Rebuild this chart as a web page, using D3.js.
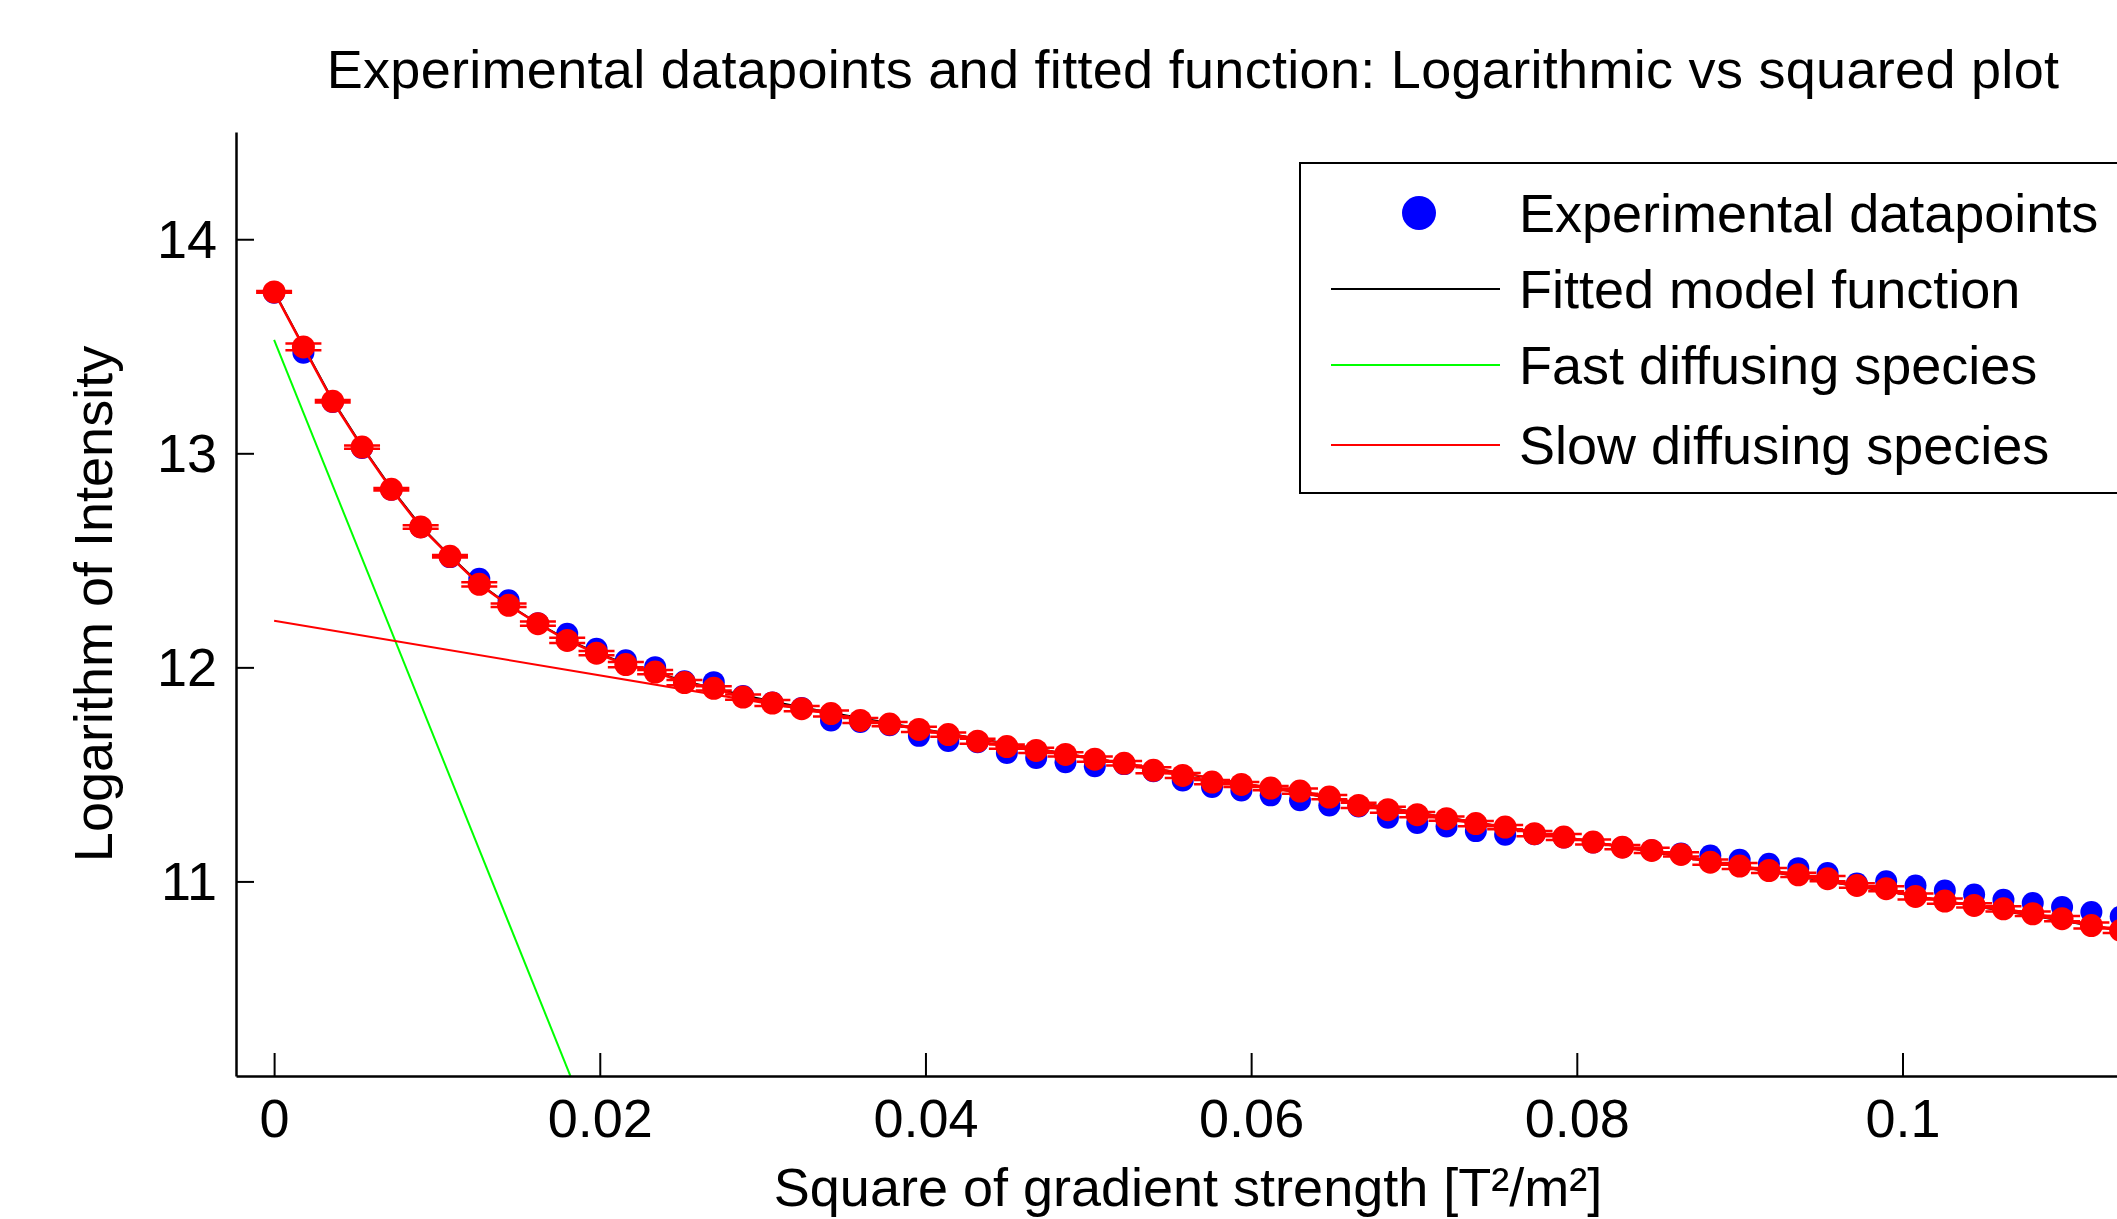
<!DOCTYPE html>
<html>
<head>
<meta charset="utf-8">
<script src="https://cdnjs.cloudflare.com/ajax/libs/d3/7.8.5/d3.min.js"></script>
<style>
  html, body { margin: 0; padding: 0; background: #fff; }
  svg { display: block; }
  text { font-family: "Liberation Sans", Arial, sans-serif; fill: #000; }
</style>
</head>
<body>
<div id="chart"></div>
<script>
// squared gradient strength [T^2/m^2]
var gradSq = [0, 0.0018, 0.0036, 0.0054, 0.0072, 0.009, 0.0108, 0.0126, 0.0144, 0.0162,
  0.018, 0.0198, 0.0216, 0.0234, 0.0252, 0.027, 0.0288, 0.0306, 0.0324, 0.0342,
  0.036, 0.0378, 0.0396, 0.0414, 0.0432, 0.045, 0.0468, 0.0486, 0.0504, 0.0522,
  0.054, 0.0558, 0.0576, 0.0594, 0.0612, 0.063, 0.0648, 0.0666, 0.0684, 0.0702,
  0.072, 0.0738, 0.0756, 0.0774, 0.0792, 0.081, 0.0828, 0.0846, 0.0864, 0.0882,
  0.09, 0.0918, 0.0936, 0.0954, 0.0972, 0.099, 0.1008, 0.1026, 0.1044, 0.1062,
  0.108, 0.1098, 0.1116, 0.1134];

// blue experimental points (ln I)
var expLogI = [13.750, 13.470, 13.240, 13.025, 12.830, 12.655, 12.515, 12.414, 12.313, 12.206,
  12.157, 12.087, 12.033, 12.001, 11.935, 11.931, 11.866, 11.836, 11.810, 11.752,
  11.745, 11.730, 11.680, 11.656, 11.650, 11.600, 11.577, 11.557, 11.538, 11.548,
  11.515, 11.472, 11.441, 11.425, 11.402, 11.379, 11.355, 11.350, 11.298, 11.273,
  11.257, 11.235, 11.218, 11.220, 11.205, 11.182, 11.160, 11.146, 11.130, 11.121,
  11.101, 11.083, 11.062, 11.039, 10.990, 11.001, 10.981, 10.958, 10.939, 10.914,
  10.899, 10.880, 10.857, 10.836];

// red points with error bars
var errLogI = [13.754, 13.497, 13.243, 13.029, 12.832, 12.656, 12.519, 12.388, 12.290, 12.204,
  12.126, 12.066, 12.013, 11.978, 11.929, 11.902, 11.861, 11.833, 11.807, 11.784,
  11.752, 11.735, 11.710, 11.686, 11.655, 11.630, 11.612, 11.593, 11.571, 11.552,
  11.519, 11.495, 11.464, 11.453, 11.436, 11.422, 11.394, 11.355, 11.335, 11.312,
  11.293, 11.270, 11.254, 11.223, 11.207, 11.184, 11.160, 11.145, 11.126, 11.090,
  11.072, 11.051, 11.031, 11.013, 10.981, 10.966, 10.930, 10.908, 10.888, 10.872,
  10.849, 10.826, 10.794, 10.771];

var errSize = [0.004, 0.016, 0.006, 0.008, 0.006, 0.008, 0.006, 0.010, 0.008, 0.010,
  0.012, 0.010, 0.012, 0.010, 0.012, 0.010, 0.012, 0.014, 0.012, 0.014,
  0.012, 0.010, 0.012, 0.010, 0.012, 0.010, 0.012, 0.010, 0.012, 0.010,
  0.014, 0.012, 0.010, 0.012, 0.010, 0.012, 0.010, 0.012, 0.014, 0.012,
  0.010, 0.012, 0.010, 0.012, 0.014, 0.012, 0.010, 0.012, 0.010, 0.012,
  0.014, 0.012, 0.010, 0.012, 0.010, 0.012, 0.014, 0.012, 0.010, 0.012,
  0.010, 0.012, 0.014, 0.012];

// fitted model (black)
var fitLogI = [13.757, 13.500, 13.248, 13.033, 12.836, 12.661, 12.521, 12.392, 12.292, 12.205,
  12.130, 12.069, 12.017, 11.978, 11.935, 11.904, 11.870, 11.841, 11.814, 11.788,
  11.763, 11.739, 11.715, 11.691, 11.667, 11.644, 11.621, 11.597, 11.574, 11.551,
  11.528, 11.505, 11.482, 11.459, 11.437, 11.414, 11.391, 11.368, 11.345, 11.322,
  11.299, 11.276, 11.253, 11.230, 11.207, 11.184, 11.161, 11.138, 11.115, 11.092,
  11.069, 11.046, 11.023, 11.000, 10.977, 10.954, 10.931, 10.908, 10.885, 10.862,
  10.839, 10.816, 10.793, 10.770];

// single-species components (straight lines)
var fastX = [0, 0.0182];
var fastY = [13.53, 10.09];
var slowX = [0, 0.1152];
var slowY = [12.218, 10.748];

var xTicks = [0, 0.02, 0.04, 0.06, 0.08, 0.1];
var xTickLabels = ["0", "0.02", "0.04", "0.06", "0.08", "0.1"];
var yTicks = [11, 12, 13, 14];

var legendNames = ["Experimental datapoints", "Fitted model function", "Fast diffusing species", "Slow diffusing species"];

(function() {
  var W = 2117, H = 1219;
  var margin = { top: 132, left: 236, right: -33, bottom: 143 },
    width = W - margin.left - margin.right,
    height = H - margin.top - margin.bottom;

  var svg = d3.select("#chart")
    .append("svg")
    .attr("width", W)
    .attr("height", H);

  var g = svg.append("g")
    .attr("transform", "translate(" + margin.left + "," + margin.top + ")");

  var x = d3.scaleLinear().domain([-0.00234, 0.1152]).range([0, width]);
  var y = d3.scaleLinear().domain([10.091, 14.501]).range([height, 0]);

  g.append("clipPath").attr("id", "plotclip")
    .append("rect").attr("width", width).attr("height", height);

  var plot = g.append("g").attr("clip-path", "url(#plotclip)");

  var pts = gradSq.map(function(d, i) {
    return { x: d, exp: expLogI[i], val: errLogI[i], err: errSize[i], fit: fitLogI[i] };
  });

  // experimental points
  plot.selectAll(".exp")
    .data(pts)
    .enter().append("circle")
    .attr("cx", function(d) { return x(d.x); })
    .attr("cy", function(d) { return y(d.exp); })
    .attr("r", 11)
    .attr("fill", "#0000ff");

  var line = d3.line()
    .x(function(d) { return x(d[0]); })
    .y(function(d) { return y(d[1]); });

  // fitted model
  plot.append("path")
    .attr("d", line(pts.map(function(d) { return [d.x, d.fit]; })))
    .attr("fill", "none").attr("stroke", "#000").attr("stroke-width", 2);

  plot.append("path")
    .attr("d", line(fastX.map(function(d, i) { return [d, fastY[i]]; })))
    .attr("fill", "none").attr("stroke", "#00ff00").attr("stroke-width", 2);

  plot.append("path")
    .attr("d", line(slowX.map(function(d, i) { return [d, slowY[i]]; })))
    .attr("fill", "none").attr("stroke", "#ff0000").attr("stroke-width", 2);

  // red errorbar series
  plot.append("path")
    .attr("d", line(pts.map(function(d) { return [d.x, d.val]; })))
    .attr("fill", "none").attr("stroke", "#ff0000").attr("stroke-width", 2.5);

  var eb = plot.selectAll(".eb")
    .data(pts)
    .enter().append("g")
    .attr("class", "eb");

  var cap = 18;
  eb.append("path")
    .attr("d", function(d) {
      var cx = x(d.x), y0 = y(d.val - d.err), y1 = y(d.val + d.err);
      return "M" + cx + "," + y0 + "V" + y1 +
        "M" + (cx - cap) + "," + y0 + "H" + (cx + cap) +
        "M" + (cx - cap) + "," + y1 + "H" + (cx + cap);
    })
    .attr("stroke", "#ff0000").attr("stroke-width", 2.5).attr("fill", "none");

  eb.append("circle")
    .attr("cx", function(d) { return x(d.x); })
    .attr("cy", function(d) { return y(d.val); })
    .attr("r", 11.5)
    .attr("fill", "#ff0000");

  // axes, ticks pointing inwards
  var xAxis = g.append("g")
    .attr("transform", "translate(0," + height + ")")
    .call(d3.axisBottom(x).tickValues(xTicks).tickSize(-23).tickSizeOuter(0)
      .tickFormat(function(d, i) { return xTickLabels[i]; }));

  xAxis.selectAll("text")
    .attr("y", 61).attr("dy", null)
    .style("font-size", "54px");

  var yAxis = g.append("g")
    .call(d3.axisLeft(y).tickValues(yTicks).tickSize(-18).tickSizeOuter(0)
      .tickFormat(d3.format("d")));

  yAxis.selectAll("text")
    .attr("x", -19).attr("dy", "0.34em")
    .style("font-size", "54px");

  svg.selectAll(".domain").attr("stroke", "#000").attr("stroke-width", 2.5);
  svg.selectAll(".tick line").attr("stroke", "#000").attr("stroke-width", 2);
  svg.selectAll(".tick text").attr("font-family", null);

  // titles
  svg.append("text")
    .attr("x", margin.left + width / 2)
    .attr("y", 88)
    .attr("text-anchor", "middle")
    .style("font-size", "54px")
    .style("letter-spacing", "0.3px")
    .text("Experimental datapoints and fitted function: Logarithmic vs squared plot");

  svg.append("text")
    .attr("x", margin.left + width / 2 - 5)
    .attr("y", 1206)
    .attr("text-anchor", "middle")
    .style("font-size", "54px")
    .text("Square of gradient strength [T\u00b2/m\u00b2]");

  svg.append("text")
    .attr("transform", "translate(112," + (margin.top + height / 2) + ") rotate(-90)")
    .attr("text-anchor", "middle")
    .style("font-size", "54px")
    .text("Logarithm of Intensity");

  // legend
  var legend = svg.append("g").attr("transform", "translate(1300,163)");

  legend.append("rect")
    .attr("width", 840).attr("height", 330)
    .attr("fill", "#fff").attr("stroke", "#000").attr("stroke-width", 2);

  var rowY = [50, 126, 202, 282];
  var swatch = [
    { type: "dot", color: "#0000ff" },
    { type: "line", color: "#000" },
    { type: "line", color: "#00ff00" },
    { type: "line", color: "#ff0000" }
  ];

  var item = legend.selectAll(".item")
    .data(legendNames)
    .enter().append("g")
    .attr("transform", function(d, i) { return "translate(0," + rowY[i] + ")"; });

  item.each(function(d, i) {
    var el = d3.select(this);
    if (swatch[i].type == "dot") {
      el.append("circle").attr("cx", 119).attr("cy", 0).attr("r", 17).attr("fill", swatch[i].color);
    } else {
      el.append("line").attr("x1", 31).attr("x2", 200)
        .attr("stroke", swatch[i].color).attr("stroke-width", 2);
    }
    el.append("text")
      .attr("x", 219).attr("y", 19)
      .style("font-size", "54px")
      .text(d);
  });
})();
</script>
</body>
</html>
